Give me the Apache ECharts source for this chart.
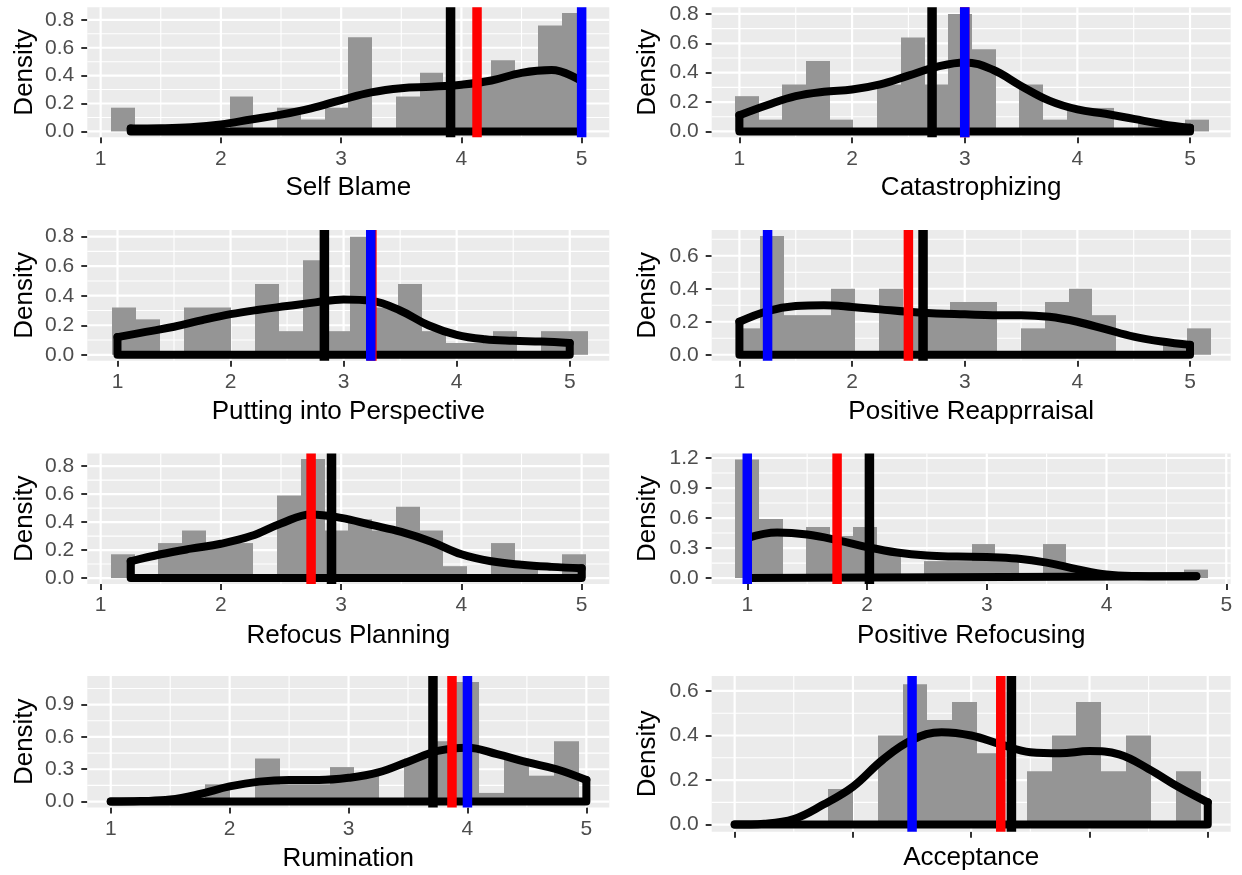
<!DOCTYPE html>
<html><head><meta charset="utf-8">
<script src="https://cdn.jsdelivr.net/npm/echarts@6/dist/echarts.min.js"></script>
<style>html,body{margin:0;padding:0;background:#fff}#c{width:1242px;height:875px}</style>
</head><body><div id="c"></div>
<script>
// ---------------- DATA ----------------
const panelTitles = ['Self Blame','Catastrophizing','Putting into Perspective','Positive Reapprraisal','Refocus Planning','Positive Refocusing','Rumination','Acceptance'];
const xTickLabels = [1, 2, 3, 4, 5];
const yTicks1 = [0, 0.2, 0.4, 0.6, 0.8];
const yTicks2 = [0, 0.2, 0.4, 0.6];
const yTicks3 = [0, 0.3, 0.6, 0.9, 1.2];
const yTicks4 = [0, 0.3, 0.6, 0.9];

// histogram bins: first left edge, bin width, densities
const binStarts = [1.086, 0.96, 0.955, 0.975, 1.086, 0.9, 0.95, 0.95];
const binWidths = [0.1974, 0.2105, 0.2105, 0.2105, 0.1974, 0.1974, 0.21, 0.21];
const histSelfBlame = [0.17,0,0,0,0,0.25,0,0.17,0.085,0.17,0.675,0,0.25,0.42,0.34,0.34,0.51,0.42,0.76,0.85];
const histCatastrophizing = [0.24,0.08,0.32,0.48,0.08,0,0.32,0.64,0.32,0.8,0.56,0,0.32,0.08,0.16,0.16,0,0.08,0,0.08];
const histPerspective = [0.32,0.24,0,0.32,0.32,0,0.48,0.16,0.64,0.16,0.8,0.32,0.48,0.16,0.08,0.08,0.16,0,0.16,0.16];
const histReappraisal = [0.16,0.72,0.24,0.24,0.4,0,0.4,0.24,0.24,0.32,0.32,0,0.16,0.32,0.4,0.24,0,0,0.08,0.16];
const histPlanning = [0.17,0,0.25,0.34,0.25,0.25,0,0.59,0.85,0.34,0.42,0.34,0.51,0.34,0.085,0,0.25,0.085,0,0.17];
const histRefocusing = [1.186,0.59,0,0.51,0.42,0.51,0.25,0,0.17,0.17,0.34,0.17,0,0.34,0.085,0,0,0,0,0.085];
const histRumination = [0,0,0,0,0.16,0,0.4,0.16,0.16,0.32,0.24,0,0.4,0.56,1.11,0.08,0.4,0.24,0.56,0];
const histAcceptance = [0,0,0,0,0.16,0,0.4,0.63,0.47,0.55,0.32,0,0.24,0.4,0.55,0.24,0.4,0,0.24,0];

// density curves
const densXSelfBlame = [1.25,1.5,1.75,2,2.25,2.5,2.75,3,3.25,3.5,3.75,4,4.25,4.5,4.75,5];
const densYSelfBlame = [0.02,0.022,0.03,0.05,0.085,0.12,0.165,0.225,0.28,0.31,0.32,0.335,0.365,0.42,0.44,0.36];
const densXCatastrophizing = [1,1.25,1.5,1.75,2,2.25,2.5,2.75,3,3.25,3.5,3.75,4,4.25,4.5,4.75,5];
const densYCatastrophizing = [0.11,0.18,0.24,0.27,0.285,0.32,0.38,0.44,0.47,0.42,0.31,0.21,0.15,0.12,0.085,0.05,0.025];
const densXPerspective = [1,1.25,1.5,1.75,2,2.25,2.5,2.75,3,3.25,3.5,3.75,4,4.25,4.5,4.75,5];
const densYPerspective = [0.12,0.155,0.19,0.235,0.275,0.305,0.33,0.355,0.375,0.365,0.3,0.2,0.135,0.105,0.095,0.09,0.08];
const densXReappraisal = [1,1.25,1.5,1.75,2,2.25,2.5,2.75,3,3.25,3.5,3.75,4,4.25,4.5,4.75,5];
const densYReappraisal = [0.2,0.265,0.295,0.3,0.29,0.275,0.26,0.25,0.245,0.24,0.24,0.23,0.2,0.155,0.11,0.08,0.06];
const densXPlanning = [1.25,1.5,1.75,2,2.25,2.5,2.75,3,3.25,3.5,3.75,4,4.25,4.5,4.75,5];
const densYPlanning = [0.12,0.17,0.21,0.245,0.3,0.39,0.455,0.43,0.38,0.33,0.26,0.17,0.12,0.095,0.08,0.07];
const densXRefocusing = [1,1.25,1.5,1.75,2,2.25,2.5,2.75,3,3.25,3.5,3.75,4,4.25,4.5,4.75];
const densYRefocusing = [0.4,0.455,0.435,0.38,0.31,0.255,0.225,0.215,0.21,0.195,0.155,0.09,0.035,0.02,0.018,0.018];
const densXRumination = [1,1.25,1.5,1.75,2,2.25,2.5,2.75,3,3.25,3.5,3.75,4,4.25,4.5,4.75,5];
const densYRumination = [0,0.004,0.018,0.07,0.14,0.185,0.2,0.2,0.22,0.27,0.37,0.47,0.5,0.44,0.365,0.3,0.2];
const densXAcceptance = [1,1.25,1.5,1.75,2,2.25,2.5,2.75,3,3.25,3.5,3.75,4,4.25,4.5,4.75,5];
const densYAcceptance = [0,0.004,0.025,0.09,0.17,0.29,0.38,0.415,0.4,0.36,0.325,0.32,0.33,0.315,0.25,0.17,0.1];

// reference lines (black, red, blue)
const blackLines = [3.91, 2.71, 2.83, 2.63, 2.92, 2.02, 3.71, 3.34];
const redLines   = [4.13, 3.0, 3.25, 2.5, 2.75, 1.75, 3.87, 3.25];
const blueLines  = [5.0, 3.0, 3.24, 1.25, null, 1.0, 4.0, 2.5];

// ---------------- LAYOUT / STYLE ----------------
const FONT = '"Liberation Sans", Arial, Helvetica, sans-serif';
const histList = [histSelfBlame,histCatastrophizing,histPerspective,histReappraisal,histPlanning,histRefocusing,histRumination,histAcceptance];
const densXList = [densXSelfBlame,densXCatastrophizing,densXPerspective,densXReappraisal,densXPlanning,densXRefocusing,densXRumination,densXAcceptance];
const densYList = [densYSelfBlame,densYCatastrophizing,densYPerspective,densYReappraisal,densYPlanning,densYRefocusing,densYRumination,densYAcceptance];
const yTickList = [yTicks1,yTicks1,yTicks1,yTicks2,yTicks1,yTicks3,yTicks4,yTicks2];
const xRanges = [[0.889,5.23],[0.754,5.361],[0.733,5.35],[0.754,5.361],[0.889,5.23],[0.703,5.037],[0.803,5.193],[0.806,5.194]];
const yRanges = [[-0.0424,0.89],[-0.04,0.845],[-0.04,0.845],[-0.036,0.756],[-0.0424,0.89],[-0.059,1.245],[-0.0555,1.166],[-0.0318,0.667]];
const gridBoxes = [
  {left:87.3, top:7.3, width:522, height:130},
  {left:711.7, top:7.3, width:519, height:130},
  {left:87.3, top:230, width:522, height:130.7},
  {left:711.7, top:230, width:519, height:130.7},
  {left:87.3, top:453.5, width:522, height:130.5},
  {left:711.7, top:453.5, width:519, height:130.5},
  {left:87.3, top:676, width:522, height:131.5},
  {left:711.7, top:676, width:519, height:155.7}
];
const xNameGaps = [37.5,37.5,37.8,37.8,38.5,38.5,38.5,13.3];
const yNameGaps = [49,51,49,51,49,51,49,51];
const lineColors = ['#000000','#FF0000','#0000FF'];

const chart = echarts.init(document.getElementById('c'), null, {renderer:'canvas'});
const option = {animation:false, grid:[], xAxis:[], yAxis:[], series:[]};

for (let i = 0; i < 8; i++) {
  option.grid.push(Object.assign({show:true, backgroundColor:'#EBEBEB', borderWidth:0}, gridBoxes[i]));
  option.xAxis.push({
    type:'value', gridIndex:i, min:xRanges[i][0], max:xRanges[i][1],
    name: panelTitles[i], nameLocation:'middle', nameGap:xNameGaps[i],
    nameTextStyle:{fontSize:26, color:'#000', fontFamily:FONT},
    axisLine:{show:false, onZero:false},
    axisTick:{show:true, length:6, lineStyle:{color:'#333', width:2}, customValues:xTickLabels},
    axisLabel:{show:i!==7, customValues:xTickLabels, fontSize:21, color:'#4D4D4D', fontFamily:FONT, margin:11, formatter:v=>String(v)},
    splitLine:{show:false}
  });
  option.yAxis.push({
    type:'value', gridIndex:i, min:yRanges[i][0], max:yRanges[i][1],
    name:'Density', nameLocation:'middle', nameGap:yNameGaps[i],
    nameTextStyle:{fontSize:26, color:'#000', fontFamily:FONT},
    axisLine:{show:false, onZero:false},
    axisTick:{show:true, length:6, lineStyle:{color:'#333', width:2}, customValues:yTickList[i]},
    axisLabel:{show:true, customValues:yTickList[i], fontSize:21, color:'#4D4D4D', fontFamily:FONT, margin:13, formatter:v=>v.toFixed(1)},
    splitLine:{show:false}
  });

  // grid lines (major at ticks, minor at midpoints)
  const gl = [];
  const yt = yTickList[i];
  const ystep = yt[1] - yt[0];
  yt.forEach(v => gl.push([v, 1, 0]));
  for (let k = -1; k < yt.length; k++) {
    const m = yt[0] + (k + 0.5) * ystep;
    if (m > yRanges[i][0] && m < yRanges[i][1]) gl.push([m, 0, 0]);
  }
  xTickLabels.forEach(v => gl.push([v, 1, 1]));
  for (let k = -1; k < xTickLabels.length; k++) {
    const m = xTickLabels[0] + k + 0.5;
    if (m > xRanges[i][0] && m < xRanges[i][1]) gl.push([m, 0, 1]);
  }
  const xr = xRanges[i], yr = yRanges[i];
  option.series.push({
    type:'custom', xAxisIndex:i, yAxisIndex:i, z:1, silent:true,
    data: gl,
    renderItem:(params, api) => {
      const cs = params.coordSys;
      const v = api.value(0), major = api.value(1), dir = api.value(2);
      const w = major ? 2.2 : 1.1;
      if (dir === 0) {
        const y = api.coord([xr[0], v])[1];
        return {type:'line', shape:{x1:cs.x, y1:y, x2:cs.x+cs.width, y2:y}, style:{stroke:'#FFFFFF', lineWidth:w}};
      }
      const x = api.coord([v, yr[0]])[0];
      return {type:'line', shape:{x1:x, y1:cs.y, x2:x, y2:cs.y+cs.height}, style:{stroke:'#FFFFFF', lineWidth:w}};
    }
  });

  // histogram
  const hd = histList[i].map((h, k) => [binStarts[i] + k*binWidths[i], binStarts[i] + (k+1)*binWidths[i], h]);
  option.series.push({
    type:'custom', xAxisIndex:i, yAxisIndex:i, z:2, silent:true,
    encode:{x:[0,1], y:2},
    data: hd,
    renderItem:(params, api) => {
      if (!(api.value(2) > 0)) return null;
      const a = api.coord([api.value(0), api.value(2)]);
      const b = api.coord([api.value(1), 0]);
      const x0 = Math.round(a[0]), x1 = Math.round(b[0]);
      return {type:'rect', shape:{x:x0, y:a[1], width:x1-x0, height:b[1]-a[1]}, style:{fill:'#959595'}};
    }
  });

  // density curve + closing outline
  const dx = densXList[i], dy = densYList[i];
  const n = dx.length;
  option.series.push({
    type:'line', xAxisIndex:i, yAxisIndex:i, z:3, silent:true,
    data: dx.map((x, k) => [x, dy[k]]),
    smooth:0.4, showSymbol:false, symbol:'none',
    lineStyle:{color:'#000', width:8, cap:'round', join:'round'}
  });
  option.series.push({
    type:'line', xAxisIndex:i, yAxisIndex:i, z:3, silent:true,
    data: [[dx[n-1], dy[n-1]], [dx[n-1], 0], [dx[0], 0], [dx[0], dy[0]]],
    smooth:false, showSymbol:false, symbol:'none',
    lineStyle:{color:'#000', width:8, cap:'round', join:'round'}
  });

  // vertical reference lines
  const vl = [];
  if (blackLines[i] != null) vl.push([blackLines[i], 0]);
  if (redLines[i] != null) vl.push([redLines[i], 1]);
  if (blueLines[i] != null) vl.push([blueLines[i], 2]);
  option.series.push({
    type:'custom', xAxisIndex:i, yAxisIndex:i, z:4, silent:true,
    encode:{x:0},
    data: vl,
    renderItem:(params, api) => {
      const cs = params.coordSys;
      const x = api.coord([api.value(0), 0])[0];
      return {type:'line', shape:{x1:x, y1:cs.y, x2:x, y2:cs.y+cs.height}, style:{stroke:lineColors[api.value(1)], lineWidth:9.5}};
    }
  });
}

chart.setOption(option);
</script></body></html>
